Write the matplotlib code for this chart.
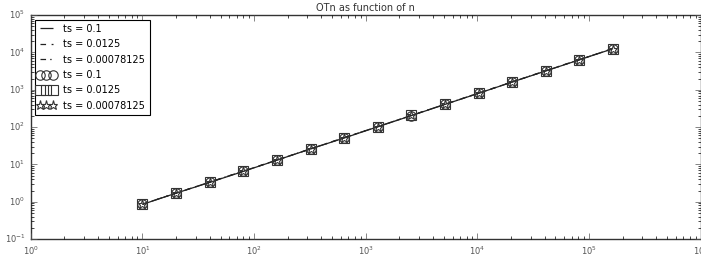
import matplotlib
matplotlib.use("Agg")
import matplotlib.pyplot as plt
from matplotlib.legend_handler import HandlerLine2D
from matplotlib.lines import Line2D

plt.style.use("classic")

n = [10, 20, 40, 80, 160, 320, 640, 1280, 2560, 5120, 10240, 20480, 40960, 81920, 163840]
ot_01 = [0.85, 1.7, 3.3, 6.5, 13, 26, 51, 102, 203, 405, 805, 1610, 3200, 6350, 12600]
ot_0125 = [0.86, 1.7, 3.35, 6.6, 13.1, 26, 52, 103, 205, 408, 810, 1620, 3220, 6400, 12700]
ot_00078 = [0.86, 1.71, 3.35, 6.6, 13.1, 26.1, 52, 103, 205, 409, 812, 1625, 3230, 6420, 12750]
labels = ["ts = 0.1", "ts = 0.0125", "ts = 0.00078125"]
title = "OTn as function of n"

fig = plt.figure(figsize=(7.01, 2.61), dpi=100)
fig.patch.set_facecolor("white")
ax = fig.add_axes([0.044, 0.084, 0.9555, 0.858])

series = [ot_01, ot_0125, ot_00078]
styles = [(0, ()), (0, (4, 4)), (0, (4, 3, 1, 3))]
markers = ["o", "s", "*"]
for y, ls, lab in zip(series, styles, labels):
    ax.plot(n, y, color="#222222", linestyle=ls, linewidth=0.9, label=lab)
for y, mk, lab in zip(series, markers, labels):
    ax.plot(n, y, linestyle="none", marker=mk, markersize=6.8,
            markerfacecolor="none", markeredgecolor="#333333", markeredgewidth=0.8, label=lab)

ax.set_xscale("log")
ax.set_yscale("log")
ax.set_xlim(1, 1e6)
ax.set_ylim(1e-1, 1e5)
ax.set_title(title, fontsize=7, pad=3, color="#333333")
ax.tick_params(labelsize=6, colors="#555555")
for s in ax.spines.values():
    s.set_color("#333333")
leg = ax.legend(loc="upper left", fontsize=7, numpoints=3, handlelength=1.4,
                borderpad=0.45, labelspacing=0.55, handletextpad=1.05, fancybox=False,
                borderaxespad=0.45,
                handler_map={Line2D: HandlerLine2D(marker_pad=0, numpoints=3)})
leg.get_frame().set_linewidth(0.8)
fig.savefig("out.png", dpi=100, facecolor="white")
